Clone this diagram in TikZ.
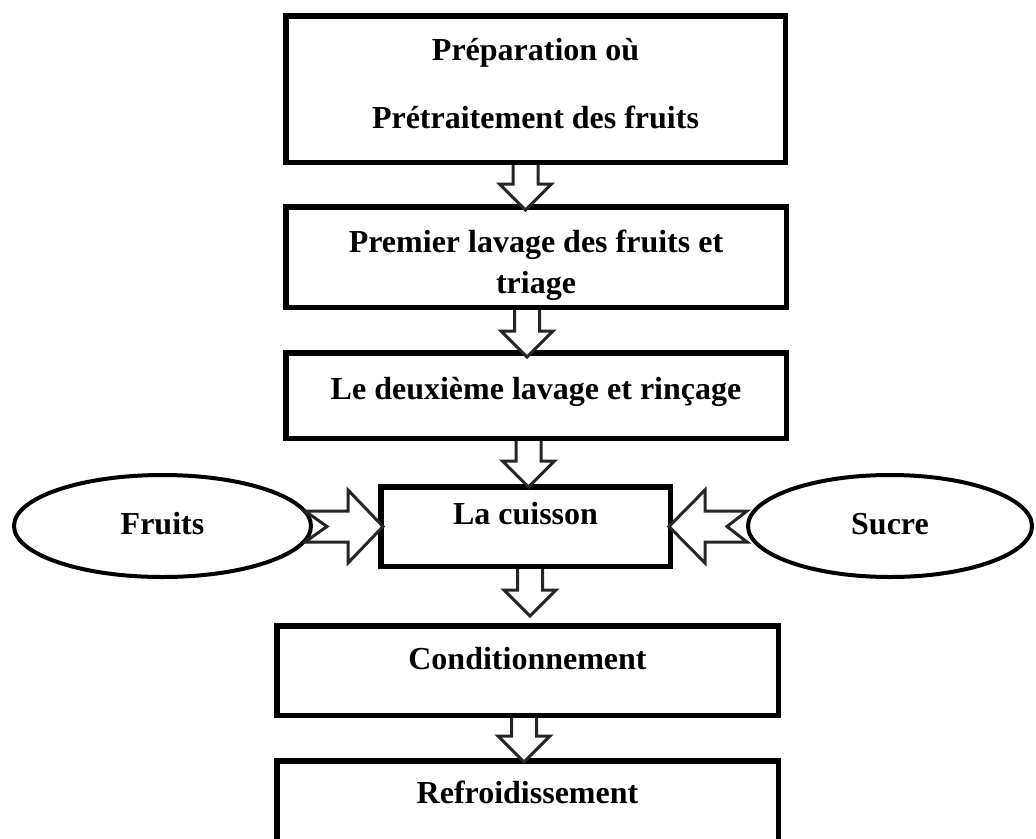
\documentclass[tikz,border=0pt]{standalone}
\usepackage{fontspec}
\setmainfont{Liberation Serif}
\usetikzlibrary{shapes.geometric,calc}
\tikzset{
    etape/.style={draw, line width=5.5pt, fill=white, align=center, inner sep=0pt,
        font=\bfseries\fontsize{32}{40}\selectfont},
    entree/.style={draw, ellipse, line width=4pt, fill=white, inner sep=0pt,
        text height=22pt, text depth=6pt, font=\bfseries\fontsize{32}{40}\selectfont},
    fleche/.style={draw=black!85, fill=white, line width=3pt, line join=miter}
}
% fleche creuse vers le bas : source, cible, x, enfoncement de la pointe
\newcommand{\flechebas}[4]{%
    \draw[fleche] let \p1=(#1.south), \p2=(#2.north) in
        (#3pt-12.5pt,\y1) -- (#3pt-12.5pt,\y2-#4pt+26pt) -- (#3pt-26pt,\y2-#4pt+26pt)
        -- (#3pt,\y2-#4pt) -- (#3pt+26pt,\y2-#4pt+26pt) -- (#3pt+12.5pt,\y2-#4pt+26pt)
        -- (#3pt+12.5pt,\y1);}
\begin{document}
\begin{tikzpicture}[x=1pt,y=-1pt]
    \useasboundingbox (0,0) rectangle (1036,838);
    % les etapes
    \node[etape, minimum width=499.5pt, minimum height=146.5pt] (prep) at (535.5,89)
        {\rule{0pt}{30pt}Préparation où\\[28pt]Prétraitement des fruits\rule[-20pt]{0pt}{20pt}};
    \node[etape, minimum width=500.5pt, minimum height=100.5pt] (lavA) at (536,257)
        {\rule{0pt}{45pt}Premier lavage des fruits et\\[1pt]triage\rule[-14pt]{0pt}{14pt}};
    \node[etape, minimum width=500.5pt, minimum height=85.5pt, text height=22pt, text depth=15pt] (lavB) at (536,395.5)
        {Le deuxième lavage et rinçage};
    \node[etape, minimum width=289.5pt, minimum height=79.5pt, text height=22pt, text depth=27pt] (cuis) at (525.5,526.5)
        {La cuisson};
    \node[etape, minimum width=501.5pt, minimum height=89.5pt, text height=22pt, text depth=25pt] (cond) at (527.5,670.5)
        {Conditionnement};
    \node[etape, minimum width=501.5pt, minimum height=81.5pt, text height=22pt, text depth=19pt] (refr) at (527.5,801.5)
        {Refroidissement};
    % les ingredients
    \node[entree, minimum width=297pt, minimum height=102pt] (fruits) at (162.5,526) {Fruits};
    \node[entree, minimum width=284pt, minimum height=102pt] (sucre) at (890,526) {Sucre};
    % fleches
    \flechebas{prep}{lavA}{525.5}{6}
    \flechebas{lavA}{lavB}{527}{7}
    \flechebas{lavB}{cuis}{528.5}{3}
    \flechebas{cuis}{cond}{530}{-7}
    \flechebas{cond}{refr}{524}{4}
    \draw[fleche] let \p1=(fruits.east), \p2=(cuis.west) in
        (\x1-8pt,\y2+15.5pt) -- (\x2-30pt,\y2+15.5pt) -- (\x2-30pt,\y2+36.5pt) -- (\x2+5pt,\y2)
        -- (\x2-30pt,\y2-36.5pt) -- (\x2-30pt,\y2-15.5pt) -- (\x1-8pt,\y2-15.5pt) -- (\x1+14pt,\y2) -- cycle;
    \draw[fleche] let \p1=(sucre.west), \p2=(cuis.east) in
        (\x1+1pt,\y2+15.5pt) -- (\x2+32pt,\y2+15.5pt) -- (\x2+32pt,\y2+36.5pt) -- (\x2-4pt,\y2)
        -- (\x2+32pt,\y2-36.5pt) -- (\x2+32pt,\y2-15.5pt) -- (\x1+1pt,\y2-15.5pt) -- (\x1-19pt,\y2) -- cycle;
\end{tikzpicture}
\end{document}
